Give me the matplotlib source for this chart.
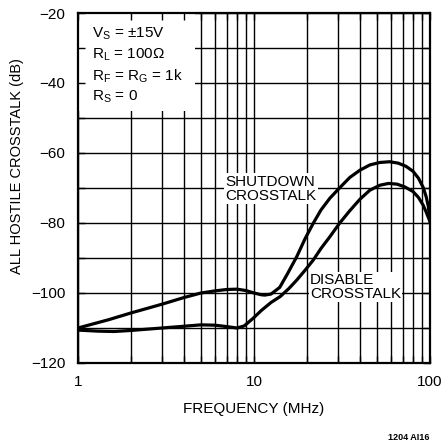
import matplotlib
matplotlib.use("Agg")
import matplotlib.pyplot as plt
from matplotlib.patches import Rectangle

plt.rcParams['font.family'] = ['Liberation Sans Narrow', 'Liberation Sans', 'DejaVu Sans']
plt.rcParams['mathtext.fontset'] = 'custom'
plt.rcParams['mathtext.rm'] = 'Liberation Sans'
plt.rcParams['mathtext.it'] = 'Liberation Sans'

# Data
shut_f = [1, 1.5, 2, 3, 4, 5, 6, 7, 8, 9, 10, 11, 11.5, 12.5, 14, 15.5, 17.5,
          19.5, 21.7, 24, 27, 30.6, 35, 40, 45.6, 52, 59, 66, 73, 80, 86, 91.4,
          95, 97.9, 100]
shut_db = [-110, -107.6, -105.7, -103.2, -101.3, -100, -99.4, -99.0, -98.9,
           -99.3, -100, -100.5, -100.6, -100.3, -98.4, -94.5, -89.6, -84.5,
           -80.1, -76.3, -72.9, -70, -67, -64.9, -63.4, -62.7, -62.5, -62.9,
           -63.8, -65.2, -67.2, -69.8, -72.4, -75.3, -79.6]
dis_f = [1, 1.3, 1.6, 2, 3, 4, 5, 6, 7, 8, 8.8, 9.9, 11, 12.5, 14.1, 15.8, 17.5,
         19.5, 21.7, 24, 27, 30.6, 35, 40, 45.6, 52, 58, 65, 72, 80, 86, 91.4,
         95, 100]
dis_db = [-110.6, -110.9, -111, -110.7, -110, -109.5, -109.1, -109.2, -109.6,
          -110, -109.4, -107.2, -105, -102.7, -101, -98.7, -96.3, -93.5, -90.6,
          -87.3, -83.9, -80.1, -76.5, -73.2, -70.6, -69.2, -68.7, -68.9, -69.7,
          -71, -72.7, -74.9, -76.8, -79.6]

x_major = [1, 10, 100]
x_minor = [2, 3, 4, 5, 6, 7, 8, 9, 20, 30, 40, 50, 60, 70, 80, 90]
y_major = [-20, -40, -60, -80, -100, -120]
y_minor = [-30, -50, -70, -90, -110]

conditions = [r"V$_\mathrm{S}$ = ±15V", r"R$_\mathrm{L}$ = 100Ω",
              r"R$_\mathrm{F}$ = R$_\mathrm{G}$ = 1k", r"R$_\mathrm{S}$ = 0"]

fig = plt.figure(figsize=(4.46, 4.41), dpi=100)
ax = fig.add_axes([78 / 446, 1 - 363 / 441, 352 / 446, 350 / 441])
ax.set_xscale('log')
ax.set_xlim(1, 100)
ax.set_ylim(-120, -20)

for xv in x_major + x_minor:
    ax.axvline(xv, color='black', lw=1.0, zorder=1)
for yv in y_major + y_minor:
    ax.axhline(yv, color='black', lw=1.0, zorder=1)

# white box behind conditions
ax.add_patch(Rectangle((1, -48), 3.62, 28, facecolor='white', edgecolor='none', zorder=1.2))

ax.plot(shut_f, shut_db, color='black', lw=2.3, zorder=2, solid_joinstyle='round',
        solid_capstyle='round')
ax.plot(dis_f, dis_db, color='black', lw=2.3, zorder=2, solid_joinstyle='round',
        solid_capstyle='round')

ax.set_xticks(x_major)
ax.set_xticklabels(['1', '10', '100'])
ax.set_xticks(x_minor, minor=True)
ax.set_xticklabels([], minor=True)
ax.set_yticks(y_major)
ax.set_yticklabels(['\u221220', '\u221240', '\u221260', '\u221280', '\u2212100', '\u2212120'])
ax.set_yticks(y_minor, minor=True)
ax.tick_params(which='both', direction='in', length=5, width=1.0, top=True, right=True,
               labelsize=11, zorder=1.5)
ax.tick_params(axis='x', pad=9)
ax.tick_params(axis='y', pad=9)

for s in ax.spines.values():
    s.set_linewidth(1.6)
    s.set_zorder(3)

ax.set_xlabel('FREQUENCY (MHz)', fontsize=11, labelpad=9)
ax.set_ylabel('ALL HOSTILE CROSSTALK (dB)', fontsize=10.5)
ax.yaxis.set_label_coords(-0.152, 0.563)

for i, t in enumerate(conditions):
    ax.text(1.20, -26.0 - 6.0 * i, t, fontsize=11, va='center', ha='left', zorder=3)

ax.text(6.9, -70.2, 'SHUTDOWN\nCROSSTALK', fontsize=11, va='center', ha='left',
        linespacing=1.0, zorder=3,
        bbox=dict(facecolor='white', edgecolor='none', pad=1.0))
ax.text(20.8, -98.3, 'DISABLE\nCROSSTALK', fontsize=11, va='center', ha='left',
        linespacing=1.0, zorder=3,
        bbox=dict(facecolor='white', edgecolor='none', pad=1.0))

fig.text(430 / 446, 1 - 437 / 441, '1204 AI16', fontsize=6.5, fontweight='bold',
         ha='right', va='center', family='Liberation Sans')

fig.savefig('out.png', dpi=100)
